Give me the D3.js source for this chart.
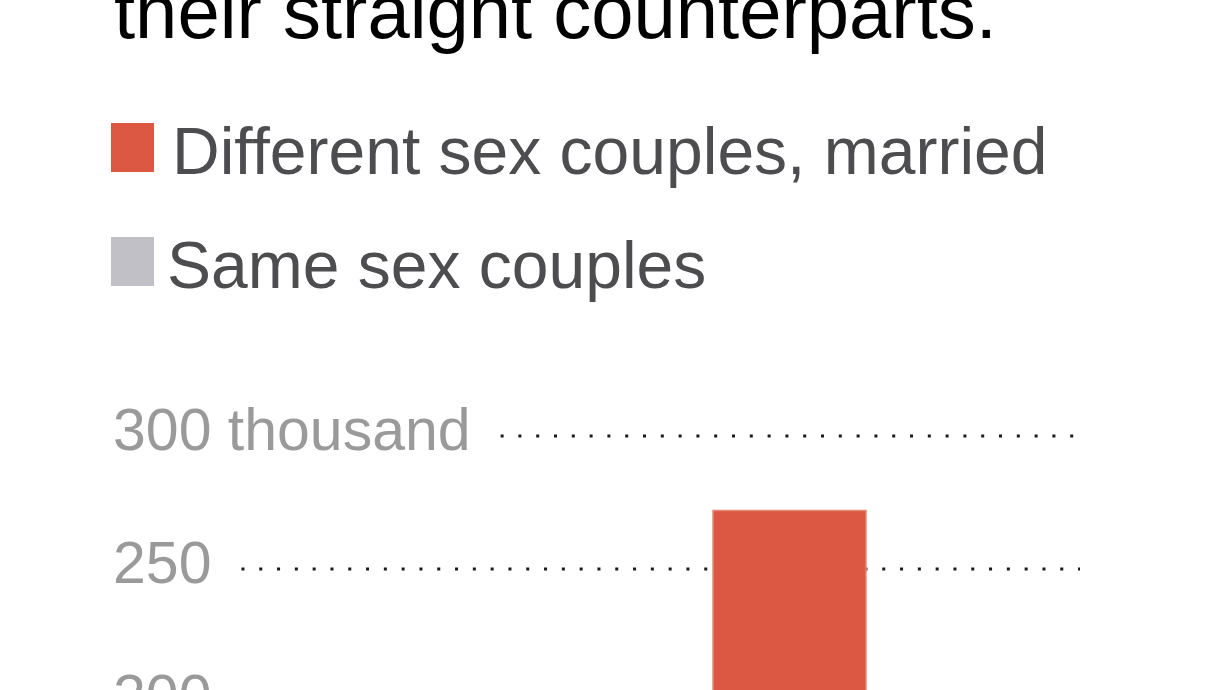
<!DOCTYPE html>
<html>
<head>
<meta charset="utf-8">
<script src="https://cdn.jsdelivr.net/npm/d3@7"></script>
<style>
    body { margin: 0; background: #fff; }
    svg { display: block; font-family: Arial, "Liberation Sans", sans-serif; }
</style>
</head>
<body>
<div data-chart></div>
<script>
    // chart data
    const titleLine = 'their straight counterparts.'
    const series = ['Different sex couples, married', 'Same sex couples']
    const seriesColors = ['#dc5842', '#c0c0c6']
    const tickValues = [200, 250, 300]
    const tickLabels = ['200', '250', '300 thousand']
    // only the married bar shows in this crop (thousands)
    const barValues = [272, null]

    const width = 1228
    const height = 690

    const svg = d3.select('[data-chart]').append('svg')
        .attr('width', width)
        .attr('height', height)

    svg.append('rect')
        .attr('width', width)
        .attr('height', height)
        .attr('fill', '#fff')

    // title (only its last line is in view)
    svg.append('text')
        .attr('x', 114)
        .attr('y', 38)
        .style('font-size', '76px')
        .style('fill', '#000')
        .text(titleLine)

    // legend
    let legend = svg.append('g')
        .selectAll('g')
        .data(series)
        .enter().append('g')
        .attr('transform', function (d, i) { return 'translate(111,' + (123 + i * 114) + ')' })

    legend.append('rect')
        .attr('width', 43)
        .attr('height', 49)
        .attr('fill', function (d, i) { return seriesColors[i] })

    legend.append('text')
        .attr('x', function (d, i) { return i === 0 ? 61 : 56 })
        .attr('y', 51)
        .style('font-size', '66px')
        .style('fill', '#4d4d4f')
        .text(function (d) { return d })

    // scales
    let y = d3.scaleLinear()
        .domain([200, 300])
        .range([702, 436])

    let x = d3.scaleBand()
        .domain(series)
        .range([713, 1019])
        .paddingInner(0)

    let lineEnd = 1080

    // tick labels and dotted grid lines
    let ticks = svg.append('g')
        .selectAll('g')
        .data(tickValues)
        .enter().append('g')
        .attr('transform', function (d) { return 'translate(0,' + y(d) + ')' })

    ticks.append('text')
        .attr('x', 113)
        .attr('y', 14)
        .style('font-size', '59px')
        .style('fill', '#9a9a9a')
        .text(function (d, i) { return tickLabels[i] })

    ticks.append('line')
        .attr('x1', function () {
            let label = this.parentNode.querySelector('text')
            return 113 + label.getComputedTextLength() + 30
        })
        .attr('x2', lineEnd)
        .attr('stroke', '#1a1a1a')
        .attr('stroke-width', 3)
        .attr('stroke-dasharray', '3,14.8')

    // bars
    let bars = series.map(function (s, i) {
        return { key: s, value: barValues[i], color: seriesColors[i] }
    }).filter(function (d) { return d.value != null })

    svg.append('g')
        .selectAll('rect')
        .data(bars)
        .enter().append('rect')
        .attr('x', function (d) { return x(d.key) })
        .attr('y', function (d) { return y(d.value) })
        .attr('width', x.bandwidth())
        .attr('height', function (d) { return y(0) - y(d.value) })
        .attr('fill', function (d) { return d.color })
        .attr('stroke', '#e58a79')
        .attr('stroke-width', 1.5)
</script>
</body>
</html>
